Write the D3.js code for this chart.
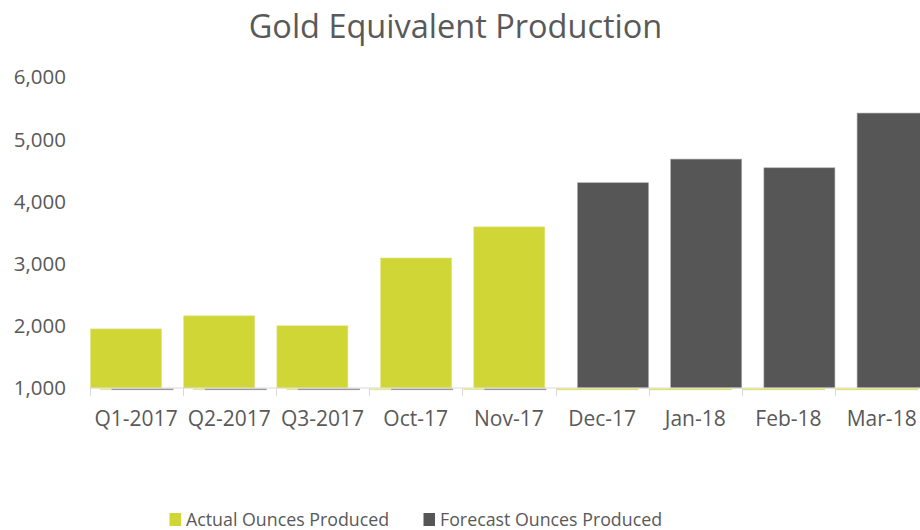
<!DOCTYPE html>
<html><head><meta charset="utf-8">
<script src="https://cdn.jsdelivr.net/npm/d3@7"></script>
<style>body{margin:0;background:#fff}svg{display:block}text{font-family:"Open Sans",sans-serif;fill:#595959}</style>
</head><body><svg id="c" width="920" height="530"></svg>
<script>
const categories = ["Q1-2017","Q2-2017","Q3-2017","Oct-17","Nov-17","Dec-17","Jan-18","Feb-18","Mar-18"];
const actualOunces = [1950, 2160, 2000, 3090, 3590, null, null, null, null];
const forecastOunces = [null, null, null, null, null, 4300, 4680, 4540, 5420];
const yTicks = [1000, 2000, 3000, 4000, 5000, 6000];
const seriesNames = ["Actual Ounces Produced", "Forecast Ounces Produced"];
const colors = {actual: "#cfd636", forecast: "#565656"};

const svg = d3.select("#c");
const W = 920, H = 530;
const plot = {left: 89.5, right: 928.3, top: 77, bottom: 388};

const x = d3.scaleBand().domain(categories).range([plot.left, plot.right]).paddingInner(0).paddingOuter(0);
const y = d3.scaleLinear().domain([1000, 6000]).range([plot.bottom, plot.top]);
// slot within category (clustered bars with overlap)
const slot = d3.scaleLinear().domain([0, 2]).range([1, 22]);
const barW = 71;
const slotOf = (c, i) => forecastOunces[i] != null ? 2 : (c.startsWith("Q") ? 0 : 1);

svg.append("text").attr("x", 455.5).attr("y", 38).attr("text-anchor", "middle")
  .style("font-size", "32.5px").text("Gold Equivalent Production");

// y axis labels
svg.append("g").selectAll("text").data(yTicks).join("text")
  .attr("x", 66).attr("y", d => y(d)).attr("dy", "0.36em").attr("text-anchor", "end")
  .style("font-size", "20.5px").text(d => d3.format(",")(d));

const g = svg.append("g");
const bars = categories.map((c, i) => ({c, i, v: actualOunces[i] != null ? actualOunces[i] : forecastOunces[i],
  kind: actualOunces[i] != null ? "actual" : "forecast"}));
g.selectAll("rect.bar").data(bars).join("rect").attr("class", "bar")
  .attr("x", d => x(d.c) + slot(slotOf(d.c, d.i)))
  .attr("width", barW)
  .attr("y", d => y(d.v))
  .attr("height", d => y(1000) - y(d.v))
  .attr("fill", d => colors[d.kind])
  .attr("stroke", d => d.kind === "forecast" ? "#a6a6a6" : "#dfe385").attr("stroke-width", 0.6);

// zero-value stubs under the axis
categories.forEach((c, i) => {
  const x0 = x(c);
  if (forecastOunces[i] != null) {
    g.append("rect").attr("x", x0 + 1).attr("y", y(1000) + 0.5).attr("width", 82).attr("height", 1.6)
      .attr("fill", "#dfe35a");
  } else {
    g.append("rect").attr("x", x0 + (c.startsWith("Q") ? 10.5 : 1)).attr("y", y(1000) + 0.5)
      .attr("width", c.startsWith("Q") ? 11.5 : 21).attr("height", 1.6).attr("fill", "#e4e88a");
    g.append("rect").attr("x", x0 + 22).attr("y", y(1000) + 0.5).attr("width", 62).attr("height", 1.6)
      .attr("fill", "#9a9a9a");
  }
});

// category axis
svg.append("line").attr("x1", plot.left).attr("x2", W).attr("y1", plot.bottom).attr("y2", plot.bottom)
  .attr("stroke", "#d9d9d9").attr("stroke-width", 1.2);
svg.append("g").selectAll("line").data(categories).join("line")
  .attr("x1", d => Math.round(x(d)) + 0.5).attr("x2", d => Math.round(x(d)) + 0.5)
  .attr("y1", plot.bottom).attr("y2", plot.bottom + 8).attr("stroke", "#d9d9d9");
svg.append("g").selectAll("text").data(categories).join("text")
  .attr("x", d => x(d) + x.bandwidth() / 2).attr("y", 426).attr("text-anchor", "middle")
  .style("font-size", "21px").text(d => d);

// legend
const leg = [{name: seriesNames[0], c: colors.actual, x: 169.5}, {name: seriesNames[1], c: colors.forecast, x: 423.5}];
const lg = svg.append("g").selectAll("g").data(leg).join("g").attr("transform", d => `translate(${d.x},0)`);
lg.append("rect").attr("x", 0).attr("y", 513).attr("width", 11.5).attr("height", 13).attr("fill", d => d.c);
lg.append("text").attr("x", 16.5).attr("y", 526).style("font-size", "17.8px").text(d => d.name);
</script></body></html>
